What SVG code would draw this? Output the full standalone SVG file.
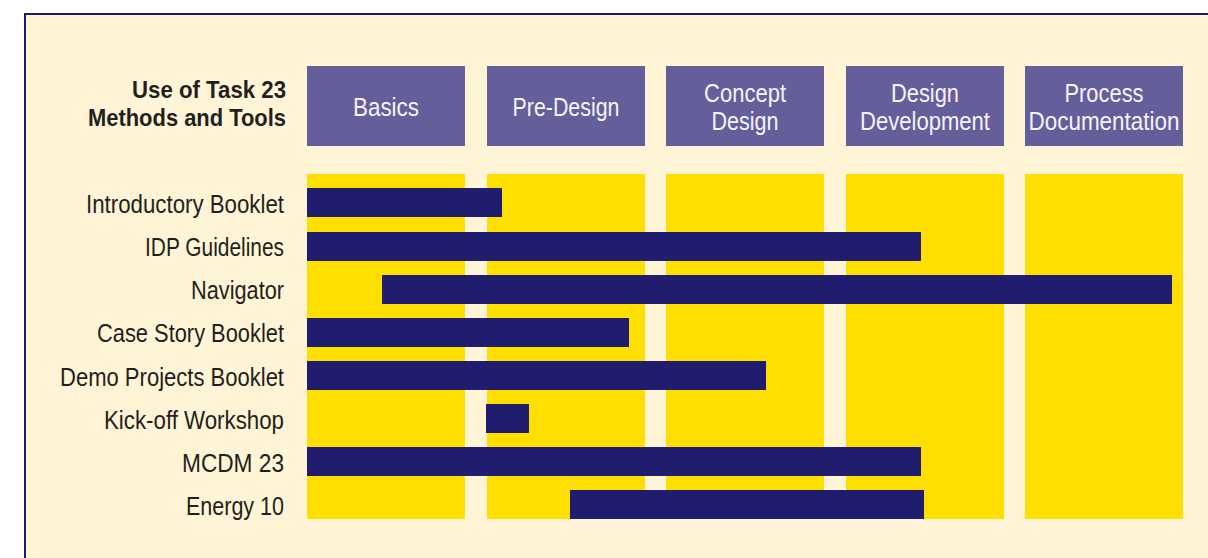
<svg xmlns="http://www.w3.org/2000/svg" width="1208" height="558" viewBox="0 0 1208 558">
<style>
.panel{fill:#FFF5D6;stroke:#1E1A70;stroke-width:2}
.col{fill:#FFDF00}
.hdr{fill:#645E9A}
.bar{fill:#201C6E}
.ht{font-family:"Liberation Sans Narrow","Liberation Sans",Arial,sans-serif;font-size:26px;fill:#F6F2FF;text-anchor:middle}
.lbl{font-family:"Liberation Sans Narrow","Liberation Sans",Arial,sans-serif;font-size:26px;fill:#231F20;text-anchor:end}
.ttl{font-family:"Liberation Sans Narrow","Liberation Sans",Arial,sans-serif;font-size:24px;font-weight:bold;fill:#231F20;text-anchor:end}
</style>
<rect x="0" y="0" width="1208" height="558" fill="#FFFFFF"/>
<rect class="panel" x="25" y="14" width="1200" height="560"/>
<g id="title">
<text class="ttl" x="286" y="98" textLength="154" lengthAdjust="spacingAndGlyphs">Use of Task 23</text>
<text class="ttl" x="286" y="126" textLength="198" lengthAdjust="spacingAndGlyphs">Methods and Tools</text>
</g>
<g id="columns">
<rect class="col" x="307" y="174" width="158" height="345"/>
<rect class="col" x="487" y="174" width="158" height="345"/>
<rect class="col" x="666" y="174" width="158" height="345"/>
<rect class="col" x="846" y="174" width="158" height="345"/>
<rect class="col" x="1025" y="174" width="158" height="345"/>
</g>
<g id="phase-basics">
<rect class="hdr" x="307" y="66" width="158" height="80"/>
<text class="ht" x="386" y="116" textLength="66" lengthAdjust="spacingAndGlyphs">Basics</text>
</g>
<g id="phase-predesign">
<rect class="hdr" x="487" y="66" width="158" height="80"/>
<text class="ht" x="566" y="116" textLength="107" lengthAdjust="spacingAndGlyphs">Pre-Design</text>
</g>
<g id="phase-concept">
<rect class="hdr" x="666" y="66" width="158" height="80"/>
<text class="ht" x="745" y="102" textLength="82" lengthAdjust="spacingAndGlyphs">Concept</text>
<text class="ht" x="745" y="130" textLength="67" lengthAdjust="spacingAndGlyphs">Design</text>
</g>
<g id="phase-development">
<rect class="hdr" x="846" y="66" width="158" height="80"/>
<text class="ht" x="925" y="102" textLength="68" lengthAdjust="spacingAndGlyphs">Design</text>
<text class="ht" x="925" y="130" textLength="130" lengthAdjust="spacingAndGlyphs">Development</text>
</g>
<g id="phase-documentation">
<rect class="hdr" x="1025" y="66" width="158" height="80"/>
<text class="ht" x="1104" y="102" textLength="79" lengthAdjust="spacingAndGlyphs">Process</text>
<text class="ht" x="1104" y="130" textLength="151" lengthAdjust="spacingAndGlyphs">Documentation</text>
</g>
<g id="row-introductory-booklet">
<text class="lbl" x="284" y="213" textLength="198" lengthAdjust="spacingAndGlyphs">Introductory Booklet</text>
<rect class="bar" x="307" y="188" width="195" height="29"/>
</g>
<g id="row-idp-guidelines">
<text class="lbl" x="284" y="256" textLength="139" lengthAdjust="spacingAndGlyphs">IDP Guidelines</text>
<rect class="bar" x="307" y="232" width="614" height="29"/>
</g>
<g id="row-navigator">
<text class="lbl" x="284" y="299" textLength="93" lengthAdjust="spacingAndGlyphs">Navigator</text>
<rect class="bar" x="382" y="275" width="790" height="29"/>
</g>
<g id="row-case-story-booklet">
<text class="lbl" x="284" y="342" textLength="187" lengthAdjust="spacingAndGlyphs">Case Story Booklet</text>
<rect class="bar" x="307" y="318" width="322" height="29"/>
</g>
<g id="row-demo-projects-booklet">
<text class="lbl" x="284" y="386" textLength="224" lengthAdjust="spacingAndGlyphs">Demo Projects Booklet</text>
<rect class="bar" x="307" y="361" width="459" height="29"/>
</g>
<g id="row-kickoff-workshop">
<text class="lbl" x="284" y="429" textLength="180" lengthAdjust="spacingAndGlyphs">Kick-off Workshop</text>
<rect class="bar" x="486" y="404" width="43" height="29"/>
</g>
<g id="row-mcdm23">
<text class="lbl" x="284" y="472" textLength="102" lengthAdjust="spacingAndGlyphs">MCDM 23</text>
<rect class="bar" x="307" y="447" width="614" height="29"/>
</g>
<g id="row-energy10">
<text class="lbl" x="284" y="515" textLength="98" lengthAdjust="spacingAndGlyphs">Energy 10</text>
<rect class="bar" x="570" y="490" width="354" height="29"/>
</g>
<g id="connectors"></g>
</svg>
